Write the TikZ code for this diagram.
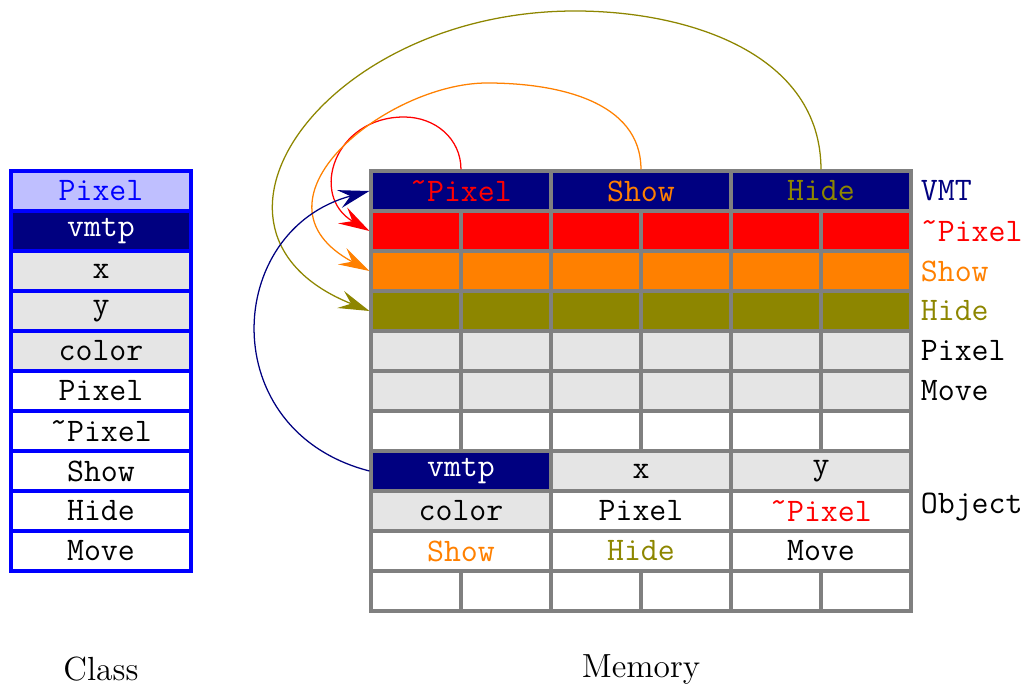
\documentclass[tikz,border=0pt]{standalone}
\usepackage{tikz}
\usetikzlibrary{arrows.meta}

\definecolor{vmtnavy}{RGB}{0,0,128}
\definecolor{cellgray}{RGB}{229,229,229}
\newcommand{\celltt}{\fontsize{11.7}{14}\selectfont\ttfamily}
\newcommand{\dtor}{\raisebox{.65ex}{\textasciitilde}}

\begin{document}
\begin{tikzpicture}[x=1.125cm, y=0.5cm,
    >={Stealth[length=11pt, width=6.5pt, inset=4pt]},
    cell/.style={draw=gray, line width=1.1pt, minimum width=1.125cm, minimum height=0.5cm,
        inner sep=0pt, font=\celltt},
    wide/.style={cell, minimum width=2.25cm},
    cls/.style={wide, draw=blue},
    lbl/.style={anchor=west, font=\celltt},
    title/.style={font=\fontsize{11.9}{14}\selectfont},
    link/.style={->, line width=0.45pt}]
    \useasboundingbox (-4.122,4.275) rectangle (7.267,-12.875);

    % class
    \foreach \t/\f/\c [count=\i] in {Pixel/blue!25/blue, vmtp/vmtnavy/white,
        x/cellgray/black, y/cellgray/black, color/cellgray/black, Pixel/white/black,
        \dtor Pixel/white/black, Show/white/black, Hide/white/black, Move/white/black}
        \node[cls, fill=\f, text=\c] (cls-\i) at (-3,{0.5-\i}) {\t};

    % memory: vmt
    \node[wide, fill=vmtnavy, text=red] (vmt-1) at (1,-0.5) {\dtor Pixel};
    \node[wide, fill=vmtnavy, text=orange] (vmt-2) at (3,-0.5) {Show};
    \node[wide, fill=vmtnavy, text=olive] (vmt-3) at (5,-0.5) {Hide};
    \foreach \r/\f in {1/red, 2/orange, 3/olive, 4/cellgray, 5/cellgray, 6/white, 10/white}
        \foreach \k in {1,...,6}
            \node[cell, fill=\f] (m-\r-\k) at ({\k-0.5},{-\r-0.5}) {};

    % memory: object
    \node[wide, fill=vmtnavy, text=white] (obj-vmtp) at (1,-7.5) {vmtp};
    \node[wide, fill=cellgray] (obj-x) at (3,-7.5) {x};
    \node[wide, fill=cellgray] (obj-y) at (5,-7.5) {y};
    \node[wide, fill=cellgray] (obj-color) at (1,-8.5) {color};
    \node[wide] (obj-ctor) at (3,-8.5) {Pixel};
    \node[wide, text=red] (obj-dtor) at (5,-8.5) {\dtor Pixel};
    \node[wide, text=orange] (obj-show) at (1,-9.5) {Show};
    \node[wide, text=olive] (obj-hide) at (3,-9.5) {Hide};
    \node[wide] (obj-move) at (5,-9.5) {Move};

    % labels
    \node[lbl, text=vmtnavy] (l-vmt) at (6,-0.5) {VMT};
    \node[lbl, text=red] (l-dtor) at (6,-1.5) {\dtor Pixel};
    \node[lbl, text=orange] (l-show) at (6,-2.5) {Show};
    \node[lbl, text=olive] (l-hide) at (6,-3.5) {Hide};
    \node[lbl] (l-ctor) at (6,-4.5) {Pixel};
    \node[lbl] (l-move) at (6,-5.5) {Move};
    \node[lbl] (l-obj) at (6,-8.4) {Object};
    \node[title] (class) at (-3,-12.45) {Class};
    \node[title] (memory) at (3,-12.45) {Memory};

    % links
    \draw[link, red] (vmt-1.north) .. controls +(0,0.775) and +(0.344,0) .. (0.367,1.35)
        .. controls +(-0.778,0) and +(-0.671,0.875) .. (m-1-1.west);
    \draw[link, orange] (vmt-2.north) .. controls +(0,1.725) and +(0.767,0) .. (1.289,2.2)
        .. controls +(-1.111,0) and +(-1.444,1.75) .. (m-2-1.west);
    \draw[link, olive] (vmt-3.north) .. controls +(0,2.875) and +(1.278,0) .. (2.267,4)
        .. controls +(-2.778,0) and +(-2.222,2) .. (m-3-1.west);
    \draw[link, vmtnavy] (obj-vmtp.west) .. controls +(-1.73,1) and +(-1.62,-0.975) .. (vmt-1.west);
\end{tikzpicture}
\end{document}
